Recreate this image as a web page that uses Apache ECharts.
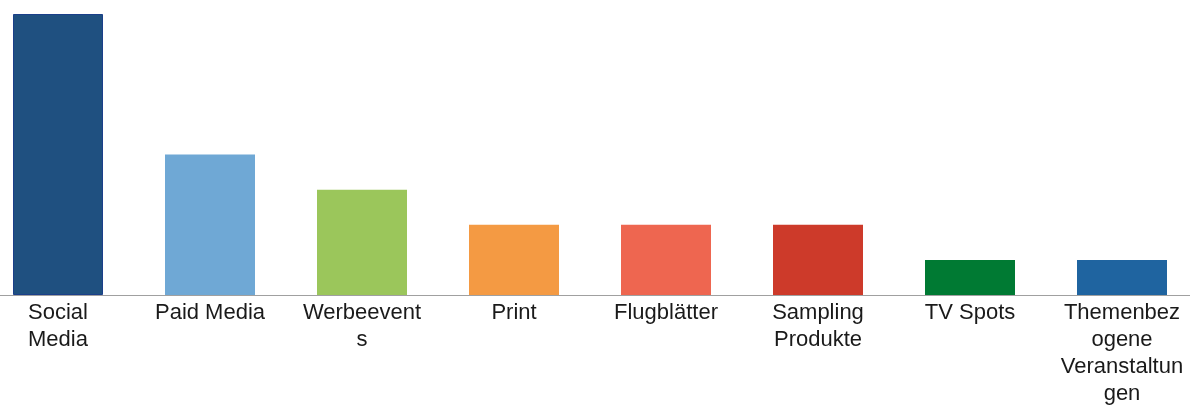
<!DOCTYPE html>
<html>
<head>
<meta charset="utf-8">
<script src="https://cdn.jsdelivr.net/npm/echarts@6/dist/echarts.min.js"></script>
<style>html,body{margin:0;padding:0;background:#fff}#c{width:1190px;height:405px}</style>
</head>
<body>
<div id="c"></div>
<script>
var categories = ['Social Media', 'Paid Media', 'Werbeevents', 'Print', 'Flugblätter', 'Sampling Produkte', 'TV Spots', 'Themenbezogene Veranstaltungen'];
var tickLabels = ['Social\nMedia', 'Paid Media', 'Werbeevent\ns', 'Print', 'Flugblätter', 'Sampling\nProdukte', 'TV Spots', 'Themenbez\nogene\nVeranstaltun\ngen'];
var values = [8, 4, 3, 2, 2, 2, 1, 1];
var colors = ['#1f5080', '#6fa8d5', '#9bc65b', '#f49a43', '#ee6650', '#cd3a2a', '#007a33', '#1f64a0'];

var chart = echarts.init(document.getElementById('c'));
chart.setOption({
  animation: false,
  grid: { left: -18, width: 1216, top: 14, bottom: 110, containLabel: false, outerBoundsMode: 'none' },
  xAxis: {
    type: 'category',
    data: categories,
    axisLine: { show: true, lineStyle: { color: '#a0a0a0', width: 1 } },
    axisTick: { show: false },
    axisLabel: {
      interval: 0,
      margin: 4,
      hideOverlap: false,
      color: '#1a1a1a',
      fontFamily: 'Liberation Sans, Arial, sans-serif',
      fontSize: 22,
      lineHeight: 27,
      formatter: function (v, i) { return tickLabels[i]; }
    }
  },
  yAxis: {
    type: 'value', min: 0, max: 8,
    show: false,
    splitLine: { show: false }
  },
  series: [{
    type: 'bar',
    barWidth: 90,
    data: values.map(function (v, i) {
      return { value: v, itemStyle: { color: colors[i], borderColor: i === 0 ? '#1b3f8a' : colors[i], borderWidth: i === 0 ? 1 : 0 } };
    })
  }]
});
</script>
</body>
</html>
